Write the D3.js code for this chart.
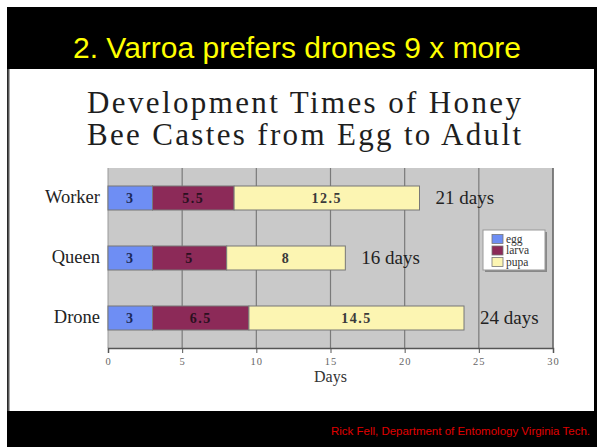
<!DOCTYPE html>
<html>
<head>
<meta charset="utf-8">
<script src="https://cdn.jsdelivr.net/npm/d3@7"></script>
<style>
  body { margin: 0; background: #fff; }
  svg { display: block; }
</style>
</head>
<body>
<div id="chart"></div>
<script>
var castes = ["Worker", "Queen", "Drone"];
var stages = ["egg", "larva", "pupa"];
var eggDays = [3, 3, 3];
var larvaDays = [5.5, 5, 6.5];
var pupaDays = [12.5, 8, 14.5];
var xTicks = [0, 5, 10, 15, 20, 25, 30];

var stageColors = { egg: "#6e8ef4", larva: "#8c2a58", pupa: "#fcf5b2" };
var W = 597, H = 447;
var serif = "Liberation Serif, Times New Roman, serif";

var svg = d3.select("#chart").append("svg")
    .attr("width", W)
    .attr("height", H);

// slide frame
svg.append("rect").attr("x", 7).attr("y", 7).attr("width", W - 7).attr("height", H - 7).attr("fill", "#000");
svg.append("rect").attr("x", 8).attr("y", 69).attr("width", 586).attr("height", 342).attr("fill", "#fff");
svg.append("line").attr("x1", 8.5).attr("x2", 8.5).attr("y1", 69).attr("y2", 411).attr("stroke", "#555").attr("stroke-width", 2);

svg.append("text")
    .attr("x", 297).attr("y", 58)
    .attr("text-anchor", "middle")
    .attr("font-family", "Liberation Sans, Arial, sans-serif")
    .attr("font-size", 30)
    .attr("fill", "#ffff00")
    .text("2. Varroa prefers drones 9 x more");

svg.append("text")
    .attr("x", 590).attr("y", 435)
    .attr("text-anchor", "end")
    .attr("font-family", "Liberation Sans, Arial, sans-serif")
    .attr("font-size", 11.5)
    .attr("fill", "#e00000")
    .text("Rick Fell, Department of Entomology Virginia Tech.");

// chart title
var titleLines = ["Development Times of Honey", "Bee Castes from Egg to Adult"];
svg.selectAll(".title").data(titleLines).enter().append("text")
    .attr("x", 87)
    .attr("y", function(d, i){ return 113 + i * 32; })
    .attr("textLength", 434)
    .attr("lengthAdjust", "spacing")
    .attr("font-family", serif)
    .attr("font-size", 31)
    .attr("fill", "#1e1e1e")
    .text(function(d){ return d; });

// plot
var margin = { top: 168, left: 108 };
var width = 553 - 108, height = 348 - 168;

var x = d3.scaleLinear().domain([0, 30]).range([0, width]);
var y = d3.scaleBand().domain(castes).range([0, height]).paddingInner(0.6).paddingOuter(0.3);

var g = svg.append("g").attr("transform", "translate(" + margin.left + "," + margin.top + ")");

g.append("rect").attr("width", width).attr("height", height).attr("fill", "#c9c9c9");

g.selectAll(".grid").data(xTicks.slice(1)).enter().append("line")
    .attr("x1", function(d){ return x(d); })
    .attr("x2", function(d){ return x(d); })
    .attr("y1", 0).attr("y2", height)
    .attr("stroke", "#7a7a7a").attr("stroke-width", 1.2);
g.append("line").attr("x1", 0).attr("x2", 0).attr("y1", 0).attr("y2", height).attr("stroke", "#9a9a9a");

var rows = castes.map(function(c, i){
    return { caste: c, egg: eggDays[i], larva: larvaDays[i], pupa: pupaDays[i] };
});
var stacked = d3.stack().keys(stages)(rows);

stacked.forEach(function(layer){
    var key = layer.key;
    g.selectAll(".bar-" + key).data(layer).enter().append("rect")
        .attr("x", function(d){ return x(d[0]); })
        .attr("y", function(d){ return y(d.data.caste); })
        .attr("width", function(d){ return x(d[1]) - x(d[0]); })
        .attr("height", y.bandwidth())
        .attr("fill", stageColors[key])
        .attr("stroke", "#777")
        .attr("stroke-width", 1);
    g.selectAll(".lab-" + key).data(layer).enter().append("text")
        .attr("x", function(d){ return (x(d[0]) + x(d[1])) / 2; })
        .attr("y", function(d){ return y(d.data.caste) + y.bandwidth() / 2 + 5; })
        .attr("text-anchor", "middle")
        .attr("font-family", serif)
        .attr("font-size", 14)
        .attr("font-weight", "bold")
        .attr("letter-spacing", 1.5)
        .attr("fill", key == "egg" ? "#1c2a5a" : (key == "larva" ? "#2a1020" : "#3a3a3a"))
        .text(function(d){ return d.data[key]; });
});

// totals
var last = stacked[stacked.length - 1];
g.selectAll(".total").data(last).enter().append("text")
    .attr("x", function(d){ return x(d[1]) + 16; })
    .attr("y", function(d){ return y(d.data.caste) + y.bandwidth() / 2 + 6; })
    .attr("font-family", serif)
    .attr("font-size", 19)
    .attr("fill", "#222")
    .text(function(d){ return d[1] + " days"; });

// category labels
g.selectAll(".cat").data(castes).enter().append("text")
    .attr("x", -8)
    .attr("y", function(d){ return y(d) + y.bandwidth() / 2 + 5; })
    .attr("text-anchor", "end")
    .attr("font-family", serif)
    .attr("font-size", 18.5)
    .attr("fill", "#222")
    .text(function(d){ return d; });

// x axis
var xAxis = g.append("g")
    .attr("transform", "translate(0," + height + ")")
    .call(d3.axisBottom(x).tickValues(xTicks).tickSize(5).tickPadding(7));
xAxis.select(".domain").attr("stroke", "#555").attr("stroke-width", 1.5);
xAxis.selectAll(".tick line").attr("stroke", "#555");
xAxis.selectAll(".tick text")
    .attr("font-family", serif)
    .attr("font-size", 10.5)
    .attr("letter-spacing", 1)
    .attr("fill", "#666")
    .attr("dy", "0.45em");
g.append("line").attr("x1", width).attr("x2", width).attr("y1", 0).attr("y2", height)
    .attr("stroke", "#666").attr("stroke-width", 1.2);

g.append("text")
    .attr("x", x(15)).attr("y", height + 34)
    .attr("text-anchor", "middle")
    .attr("font-family", serif)
    .attr("font-size", 16)
    .attr("fill", "#333")
    .text("Days");

// legend
var lg = svg.append("g").attr("transform", "translate(483,230)");
lg.append("rect").attr("x", 2).attr("y", 2).attr("width", 62).attr("height", 40).attr("fill", "#888");
lg.append("rect").attr("width", 62).attr("height", 40).attr("fill", "#fff").attr("stroke", "#999");
stages.forEach(function(s, i){
    lg.append("rect").attr("x", 9).attr("y", 4.5 + i * 11.5).attr("width", 11).attr("height", 9)
        .attr("fill", stageColors[s]).attr("stroke", "#777").attr("stroke-width", 0.8);
    lg.append("text").attr("x", 23).attr("y", 12.5 + i * 11.5)
        .attr("font-family", serif)
        .attr("font-size", 11.5)
        .attr("fill", "#333")
        .text(s);
});
</script>
</body>
</html>
